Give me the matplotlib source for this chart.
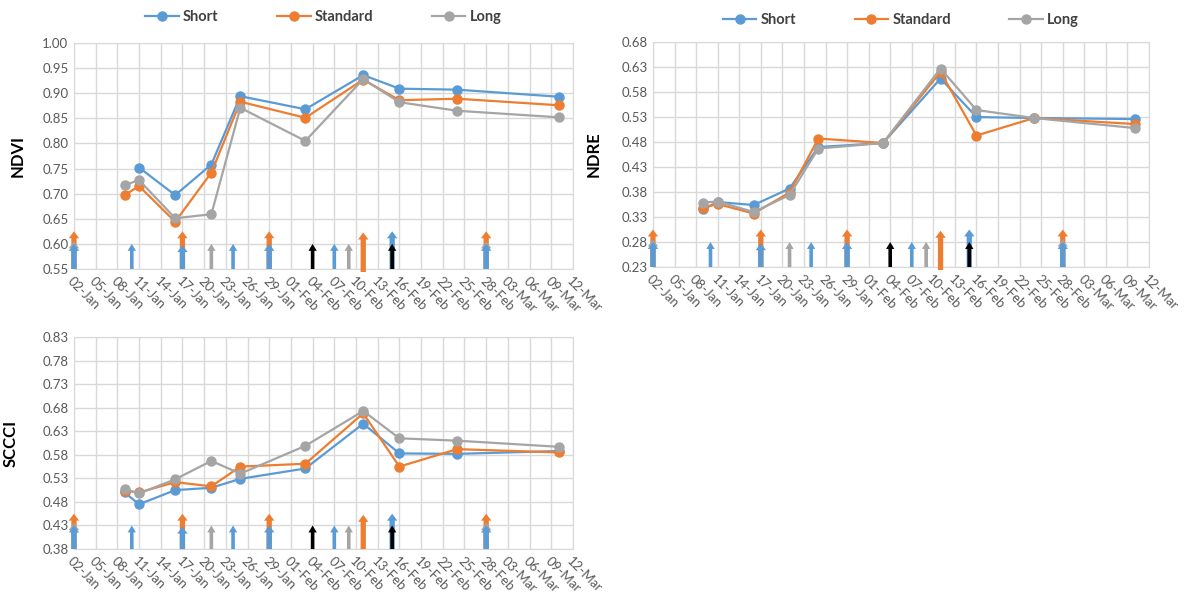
import numpy as np
import pandas as pd
import matplotlib
matplotlib.use('Agg')
import matplotlib.pyplot as plt
import matplotlib.dates as mdates

plt.rcParams['font.family'] = ['Lato', 'DejaVu Sans']

# sampling dates and index values per treatment
dates = pd.to_datetime(['2019-01-09', '2019-01-11', '2019-01-16', '2019-01-21', '2019-01-25',
                        '2019-02-03', '2019-02-11', '2019-02-16', '2019-02-24', '2019-03-10'])

ndvi_short = [np.nan, 0.752, 0.697, 0.758, 0.894, 0.868, 0.936, 0.909, 0.907, 0.893]
ndvi_standard = [0.697, 0.715, 0.644, 0.742, 0.883, 0.851, 0.927, 0.886, 0.889, 0.876]
ndvi_long = [0.717, 0.727, 0.651, 0.659, 0.871, 0.805, 0.928, 0.882, 0.865, 0.852]

ndre_short = [0.346, 0.360, 0.354, 0.387, 0.470, 0.478, 0.607, 0.530, 0.528, 0.526]
ndre_standard = [0.349, 0.356, 0.337, 0.379, 0.487, 0.478, 0.620, 0.493, 0.528, 0.516]
ndre_long = [0.359, 0.361, 0.340, 0.374, 0.467, 0.478, 0.627, 0.544, 0.528, 0.508]

sccci_short = [0.500, 0.475, 0.505, 0.510, 0.529, 0.551, 0.646, 0.583, 0.582, 0.588]
sccci_standard = [0.504, 0.500, 0.522, 0.513, 0.555, 0.561, 0.668, 0.555, 0.592, 0.585]
sccci_long = [0.507, 0.498, 0.528, 0.567, 0.540, 0.599, 0.673, 0.615, 0.610, 0.597]

# event arrows: date, treatment and stacking level (in y-grid steps)
event_dates = pd.to_datetime(['2019-01-02', '2019-01-02', '2019-01-02', '2019-01-10',
                              '2019-01-17', '2019-01-17', '2019-01-21', '2019-01-24',
                              '2019-01-29', '2019-01-29', '2019-02-04', '2019-02-07',
                              '2019-02-09', '2019-02-11', '2019-02-15', '2019-02-15',
                              '2019-02-28', '2019-02-28', '2019-02-28'])
event_group = ['Standard', 'Long', 'Short', 'Short',
               'Standard', 'Short', 'Long', 'Short',
               'Standard', 'Short', 'All', 'Short',
               'Long', 'Standard', 'Short', 'All',
               'Standard', 'Long', 'Short']
event_level = [1.5, 1.1, 1.0, 1.0,
               1.5, 0.95, 1.0, 1.0,
               1.5, 1.0, 1.0, 1.0,
               1.0, 1.45, 1.5, 1.0,
               1.5, 1.1, 1.0]

colors = {'Short': '#5B9BD5', 'Standard': '#ED7D31', 'Long': '#A5A5A5', 'All': '#000000'}

fig = plt.figure(figsize=(11.87, 6.12), dpi=100)


def draw_panel(rect, short, standard, long_, ylabel, ymin, label_x, legend_y=None):
    ax = fig.add_axes(rect)
    step = 0.05
    ymax = ymin + 9 * step
    ax.plot(dates, short, '-o', color=colors['Short'], lw=1.6, ms=6.5, label='Short', zorder=4)
    ax.plot(dates, standard, '-o', color=colors['Standard'], lw=1.6, ms=6.5, label='Standard', zorder=5)
    ax.plot(dates, long_, '-o', color=colors['Long'], lw=1.6, ms=6.5, label='Long', zorder=6)

    # arrows
    counts = pd.Series(event_dates).value_counts()
    for d, g, lev in zip(event_dates, event_group, event_level):
        x = mdates.date2num(d)
        thick = (counts[d] > 1 and g != 'All') or g == 'Standard'
        start = ymin
        if g == 'Standard' and counts[d] == 1 and ylabel != 'SCCCI':
            start = ymin - 0.12 * step
        ax.annotate('', xy=(x, ymin + lev * step), xytext=(x, start),
                    arrowprops=dict(facecolor=colors[g], edgecolor='none',
                                    width=3.8 if thick else 2.6,
                                    headwidth=7.5 if thick else 6.0,
                                    headlength=5.0, shrink=0),
                    annotation_clip=False, zorder=3)

    ax.set_xlim(mdates.date2num(pd.Timestamp('2019-01-02')), mdates.date2num(pd.Timestamp('2019-03-12')))
    ax.set_ylim(ymin, ymax)
    ticks = pd.date_range('2019-01-02', '2019-03-12', freq='3D')
    ax.set_xticks(mdates.date2num(ticks))
    ax.xaxis.set_major_formatter(mdates.DateFormatter('%d-%b'))
    ax.set_yticks(np.round(np.arange(ymin, ymax + 0.001, step), 2))
    ax.yaxis.set_major_formatter(matplotlib.ticker.FormatStrFormatter('%.2f'))
    ax.grid(True, color='#D9D9D9', lw=1.0)
    ax.set_axisbelow(True)
    for s in ax.spines.values():
        s.set_color('#D9D9D9')
    ax.tick_params(length=0, labelsize=9.5, labelcolor='#595959', pad=4)
    for lbl in ax.get_xticklabels():
        lbl.set_rotation(-45)
        lbl.set_ha('left')
        lbl.set_rotation_mode('anchor')
    ax.set_ylabel(ylabel, fontsize=12, fontweight='bold')
    ax.yaxis.set_label_coords(label_x, 0.5)
    if legend_y is not None:
        ax.legend(loc='center', bbox_to_anchor=(0.5, legend_y), ncol=3, frameon=False,
                  prop={'weight': 'bold', 'size': 10.5}, handlelength=2.3,
                  handletextpad=0.3, columnspacing=4.0, labelcolor='#404040')
    return ax


draw_panel([0.0623, 0.5605, 0.4204, 0.3693], ndvi_short, ndvi_standard, ndvi_long,
           'NDVI', 0.55, -0.096, 1.114)
draw_panel([0.5501, 0.5637, 0.4179, 0.3676], ndre_short, ndre_standard, ndre_long,
           'NDRE', 0.23, -0.103, 1.097)
draw_panel([0.0623, 0.1029, 0.4204, 0.3464], sccci_short, sccci_standard, sccci_long,
           'SCCCI', 0.38, -0.11)

fig.savefig('out.png', dpi=100)
